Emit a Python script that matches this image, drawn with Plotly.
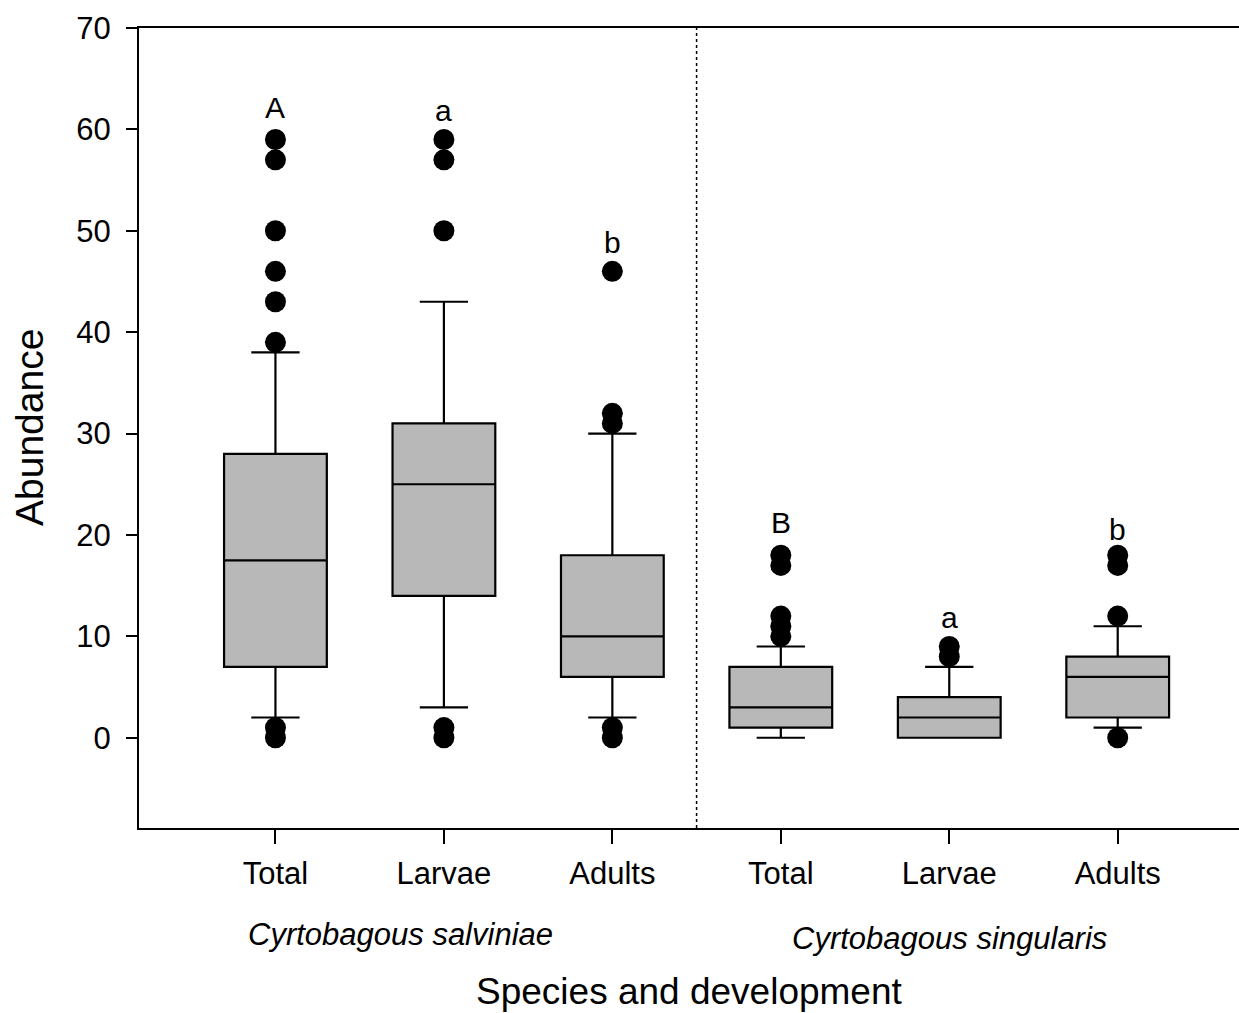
import plotly.graph_objects as go

# ---- data ----
categories = ["Total", "Larvae", "Adults", "Total", "Larvae", "Adults"]
positions = [1, 2, 3, 4, 5, 6]
q1 = [7, 14, 6, 1, 0, 2]
median = [17.5, 25, 10, 3, 2, 6]
q3 = [28, 31, 18, 7, 4, 8]
lower_whisker = [2, 3, 2, 0, 0, 1]
upper_whisker = [38, 43, 30, 9, 7, 11]
outliers = [
    [59, 57, 50, 46, 43, 39, 1, 0],
    [59, 57, 50, 1, 0],
    [46, 32, 31, 1, 0],
    [18, 17, 12, 11, 10],
    [9, 8],
    [18, 17, 12, 0],
]
letters = ["A", "a", "b", "B", "a", "b"]
letter_y = [62.2, 61.9, 48.8, 21.2, 11.9, 20.5]
species = ["Cyrtobagous salviniae", "Cyrtobagous singularis"]
species_x = [1.74, 5.0]
y_ticks = [0, 10, 20, 30, 40, 50, 60, 70]

FONT = "Liberation Sans, Arial, sans-serif"

fig = go.Figure()

fig.add_trace(go.Box(
    x=positions, q1=q1, median=median, q3=q3,
    lowerfence=lower_whisker, upperfence=upper_whisker,
    boxpoints=False, width=0.61, whiskerwidth=0.47,
    fillcolor="rgb(184,184,184)",
    line=dict(color="black", width=2.2),
    showlegend=False, hoverinfo="skip",
))

ox, oy = [], []
for p, vals in zip(positions, outliers):
    for v in vals:
        ox.append(p)
        oy.append(v)
fig.add_trace(go.Scatter(
    x=ox, y=oy, mode="markers",
    marker=dict(color="black", size=21, line=dict(width=0)),
    showlegend=False, hoverinfo="skip",
))

# letters
for p, t, yv in zip(positions, letters, letter_y):
    fig.add_annotation(x=p, y=yv, xref="x", yref="y", text=t, showarrow=False,
                       font=dict(family=FONT, size=30, color="black"),
                       xanchor="center", yanchor="middle")

# species labels
fig.add_annotation(x=species_x[0], y=-0.1325, xref="x", yref="paper", text="<i>%s</i>" % species[0],
                   showarrow=False, font=dict(family=FONT, size=31, color="black"),
                   xanchor="center", yanchor="middle")
fig.add_annotation(x=species_x[1], y=-0.1375, xref="x", yref="paper", text="<i>%s</i>" % species[1],
                   showarrow=False, font=dict(family=FONT, size=31, color="black"),
                   xanchor="center", yanchor="middle")

fig.add_shape(type="line", x0=3.5, x1=3.5, y0=0, y1=1, xref="x", yref="paper",
              line=dict(color="black", width=1.5, dash="dot"))

fig.update_layout(
    width=1239, height=1013,
    margin=dict(l=139, r=0, t=28, b=185, autoexpand=False),
    paper_bgcolor="white", plot_bgcolor="white",
    font=dict(family=FONT, size=31, color="black"),
    xaxis=dict(
        range=[0.19, 6.72], tickmode="array", tickvals=positions, ticktext=categories,
        showline=True, linecolor="black", linewidth=2, mirror=True,
        ticks="outside", ticklen=14, tickwidth=1.5, tickcolor="black",
        showgrid=False, zeroline=False, ticklabelstandoff=3, automargin=False,
        tickfont=dict(family=FONT, size=31, color="black"),
    ),
    yaxis=dict(
        range=[-8.9, 70], tickmode="array", tickvals=y_ticks,
        showline=True, linecolor="black", linewidth=2,
        ticks="outside", ticklen=11, tickwidth=1.5, tickcolor="black",
        showgrid=False, zeroline=False, ticklabelstandoff=9, automargin=False,
        tickfont=dict(family=FONT, size=31, color="black"),
    ),
)

# axis titles as annotations
fig.add_annotation(x=0.5, y=-0.204, xref="paper", yref="paper", text="Species and development",
                   showarrow=False, font=dict(family=FONT, size=37, color="black"),
                   xanchor="center", yanchor="middle")
fig.add_annotation(x=-0.1, y=0.5, xref="paper", yref="paper", text="Abundance",
                   showarrow=False, textangle=-90, font=dict(family=FONT, size=39, color="black"),
                   xanchor="center", yanchor="middle")

fig.write_html("out.html", config={"displayModeBar": False},
               post_script="document.body.style.margin='0px';document.body.style.overflow='hidden';")
